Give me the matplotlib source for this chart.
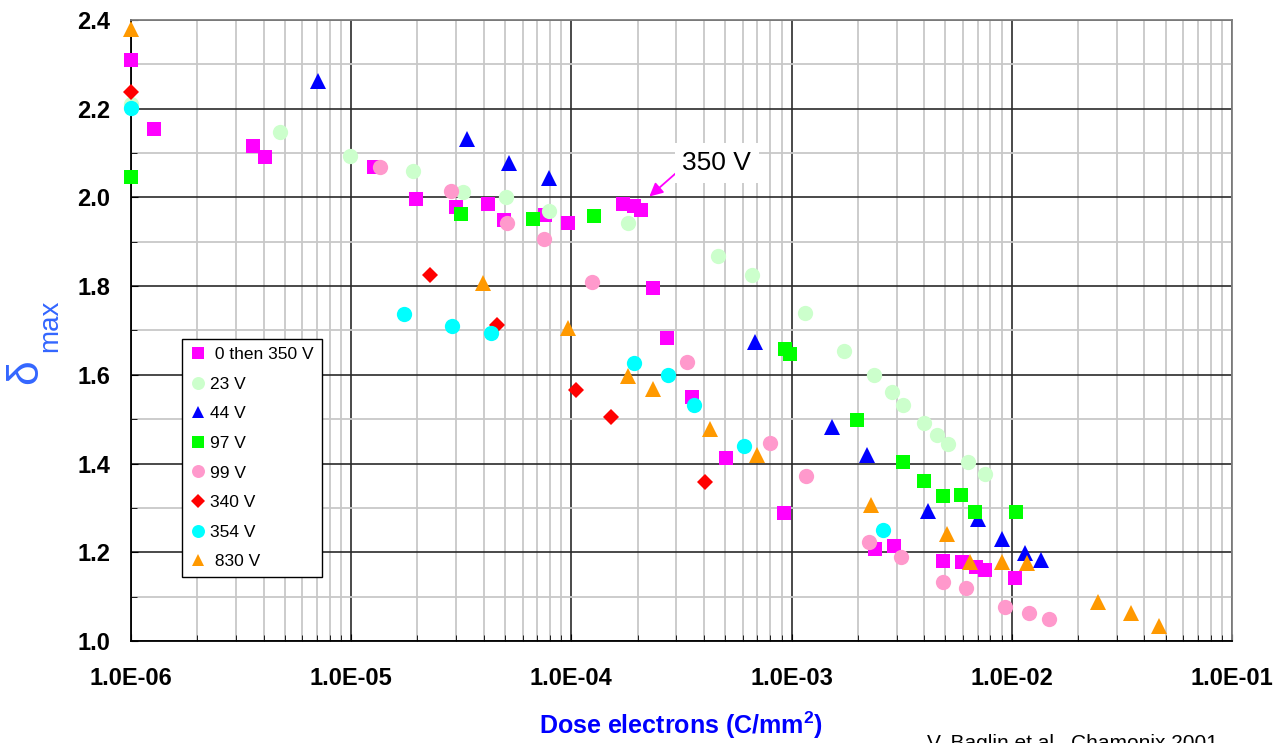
import matplotlib
matplotlib.use("Agg")
import matplotlib.pyplot as plt
from matplotlib.ticker import LogLocator, MultipleLocator, FixedFormatter, NullFormatter

plt.rcParams['font.family'] = ['Liberation Sans', 'DejaVu Sans']
plt.rcParams['mathtext.fontset'] = 'custom'
plt.rcParams['mathtext.rm'] = 'Liberation Sans'
plt.rcParams['mathtext.it'] = 'Liberation Sans'
plt.rcParams['mathtext.bf'] = 'Liberation Sans:bold'

# Data (dose in C/mm2, delta max)
mag_x = [1.0e-6, 1.27e-6, 3.58e-6, 4.06e-6, 1.27e-5, 1.98e-5, 2.99e-5, 4.20e-5, 4.96e-5, 7.59e-5,
         9.69e-5, 1.71e-4, 1.92e-4, 2.07e-4, 2.36e-4, 2.71e-4, 3.52e-4, 5.04e-4, 9.27e-4, 2.39e-3,
         2.93e-3, 4.85e-3, 5.92e-3, 6.87e-3, 7.55e-3, 1.03e-2]
mag_y = [2.31, 2.155, 2.116, 2.091, 2.069, 1.996, 1.978, 1.985, 1.948, 1.960,
         1.942, 1.985, 1.981, 1.972, 1.795, 1.683, 1.549, 1.413, 1.288, 1.208,
         1.214, 1.181, 1.178, 1.166, 1.160, 1.142]

lg_x = [1.0e-6, 4.75e-6, 9.89e-6, 1.90e-5, 3.21e-5, 5.05e-5, 7.94e-5, 1.80e-4, 4.65e-4, 6.64e-4,
        1.15e-3, 1.73e-3, 2.37e-3, 2.85e-3, 3.21e-3, 3.99e-3, 4.59e-3, 5.15e-3, 6.34e-3, 7.53e-3]
lg_y = [2.21, 2.147, 2.094, 2.060, 2.012, 2.000, 1.969, 1.942, 1.868, 1.825,
        1.740, 1.654, 1.599, 1.562, 1.532, 1.492, 1.465, 1.444, 1.404, 1.376]

blue_x = [7.10e-6, 3.35e-5, 5.19e-5, 7.94e-5, 6.80e-4, 1.53e-3, 2.20e-3, 4.15e-3, 7.02e-3, 9.06e-3,
          1.15e-2, 1.36e-2]
blue_y = [2.263, 2.132, 2.078, 2.044, 1.674, 1.483, 1.420, 1.292, 1.275, 1.230, 1.199, 1.183]

green_x = [1.0e-6, 3.16e-5, 6.70e-5, 1.27e-4, 9.29e-4, 9.84e-4, 1.99e-3, 3.19e-3, 3.99e-3, 4.87e-3,
           5.86e-3, 6.83e-3, 1.05e-2]
green_y = [2.045, 1.963, 1.951, 1.957, 1.658, 1.647, 1.498, 1.403, 1.361, 1.327, 1.330, 1.290, 1.290]

pink_x = [1.35e-5, 2.83e-5, 5.12e-5, 7.48e-5, 1.24e-4, 3.35e-4, 7.94e-4, 1.16e-3, 2.25e-3, 3.13e-3,
          4.87e-3, 6.17e-3, 9.29e-3, 1.20e-2, 1.48e-2]
pink_y = [2.069, 2.015, 1.942, 1.907, 1.810, 1.629, 1.446, 1.373, 1.223, 1.190,
          1.132, 1.119, 1.077, 1.064, 1.050]

red_x = [1.0e-6, 2.28e-5, 4.58e-5, 1.05e-4, 1.51e-4, 4.03e-4]
red_y = [2.238, 1.825, 1.713, 1.566, 1.506, 1.358]

cyan_x = [1.0e-6, 1.74e-5, 2.86e-5, 4.32e-5, 1.93e-4, 2.75e-4, 3.59e-4, 6.08e-4, 2.61e-3]
cyan_y = [2.202, 1.737, 1.710, 1.694, 1.627, 1.600, 1.532, 1.440, 1.250]

orange_x = [1.0e-6, 3.97e-5, 9.69e-5, 1.80e-4, 2.36e-4, 4.28e-4, 6.98e-4, 2.30e-3, 5.08e-3, 6.46e-3,
            9.06e-3, 1.17e-2, 2.47e-2, 3.48e-2, 4.67e-2]
orange_y = [2.38, 1.806, 1.705, 1.598, 1.568, 1.478, 1.420, 1.307, 1.241, 1.179,
            1.179, 1.175, 1.089, 1.063, 1.034]

x_ticks = [1e-6, 1e-5, 1e-4, 1e-3, 1e-2, 1e-1]
x_labels = ['1.0E-06', '1.0E-05', '1.0E-04', '1.0E-03', '1.0E-02', '1.0E-01']

series = [
    (mag_x, mag_y, 's', 10, '#FF00FF', ' 0 then 350 V'),
    (lg_x, lg_y, 'o', 11, '#CCFFCC', '23 V'),
    (blue_x, blue_y, '^', 11, '#0000FF', '44 V'),
    (green_x, green_y, 's', 10, '#00FF00', '97 V'),
    (pink_x, pink_y, 'o', 11, '#FF99CC', '99 V'),
    (red_x, red_y, 'D', 8, '#FF0000', '340 V'),
    (cyan_x, cyan_y, 'o', 11, '#00FFFF', '354 V'),
    (orange_x, orange_y, '^', 11, '#FF9900', ' 830 V'),
]

fig = plt.figure(figsize=(12.8, 7.43), dpi=100)
ax = fig.add_axes([0.1023, 0.1373, 0.8602, 0.8358])

for xs, ys, m, ms, c, lab in series:
    ax.plot(xs, ys, linestyle='none', marker=m, markersize=ms, color=c,
            markeredgewidth=0, label=lab, clip_on=False, zorder=3)

ax.set_xscale('log')
ax.set_xlim(1e-6, 1e-1)
ax.set_ylim(1.0, 2.4)

ax.set_xticks(x_ticks)
ax.xaxis.set_major_formatter(FixedFormatter(x_labels))
ax.xaxis.set_minor_locator(LogLocator(base=10, subs=range(2, 10)))
ax.xaxis.set_minor_formatter(NullFormatter())
ax.yaxis.set_major_locator(MultipleLocator(0.2))
ax.yaxis.set_minor_locator(MultipleLocator(0.1))
ax.yaxis.set_major_formatter(plt.FuncFormatter(lambda v, p: f'{v:.1f}'))

ax.grid(which='major', color='#2a2a2a', linewidth=1.2, zorder=1)
ax.grid(which='minor', color='#c8c8c8', linewidth=1.3, zorder=0)
ax.set_axisbelow(True)

ax.tick_params(which='both', direction='in', color='black')
ax.tick_params(axis='x', which='major', length=5, pad=19, labelsize=17)
ax.tick_params(axis='x', which='minor', length=4)
ax.tick_params(axis='y', which='major', length=5, pad=15, labelsize=17)
ax.tick_params(axis='y', which='minor', length=4)
for lab in ax.get_xticklabels() + ax.get_yticklabels():
    lab.set_fontweight('bold')

ax.spines['left'].set_color('black')
ax.spines['bottom'].set_color('black')
ax.spines['top'].set_color('#7f7f7f')
ax.spines['right'].set_color('#7f7f7f')
for s in ax.spines.values():
    s.set_linewidth(1.3)

ax.set_xlabel(r'Dose electrons (C/mm$^{\mathbf{2}}$)', fontsize=18, fontweight='bold',
              color='#0000FF', va='center')
ax.xaxis.set_label_coords(0.4995, -0.136)

# y label: delta with subscript "max", rotated
fig.text(26 / 1280, 1 - 372 / 743, 'δ', rotation=90, fontsize=32, color='#3366FF',
         ha='center', va='center')
fig.text(50 / 1280, 1 - 326 / 743, 'max', rotation=90, fontsize=20, color='#3366FF',
         ha='center', va='center')

# arrow and label for the 350 V points
ax.annotate('', xy=(2.26e-4, 2.002), xytext=(3.02e-4, 2.057), textcoords='data',
            arrowprops=dict(arrowstyle='-|>', color='#FF00FF', lw=1.3, mutation_scale=20,
                            shrinkA=0, shrinkB=0), zorder=4)
ax.text(4.58e-4, 2.078, '350 V', ha='center', va='center', fontsize=19, zorder=4,
        bbox=dict(boxstyle='square,pad=0.3', fc='white', ec='none'))

leg = ax.legend(loc='lower left', bbox_to_anchor=(0.046, 0.103), borderaxespad=0,
                fontsize=12.5, frameon=True, fancybox=False, edgecolor='black',
                framealpha=1, numpoints=1, markerscale=0.85, labelspacing=0.83,
                handlelength=1.0, handletextpad=0.2, borderpad=0.45)
leg.get_frame().set_linewidth(1.0)
leg.set_zorder(5)

fig.text(0.724, 0.012, 'V. Baglin et al., Chamonix 2001', fontsize=15, va='top', ha='left')

fig.savefig('out.png', dpi=100)
